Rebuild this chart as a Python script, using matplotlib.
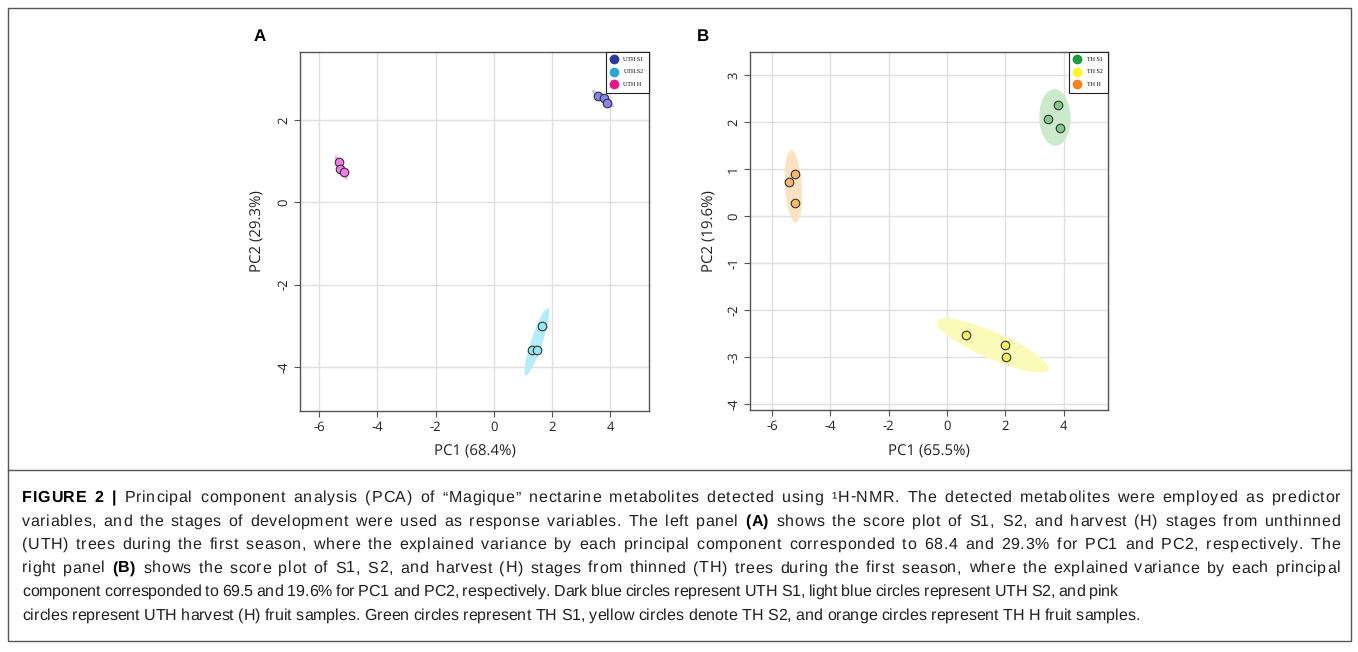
import numpy as np
import matplotlib
matplotlib.use("Agg")
import matplotlib.pyplot as plt
from matplotlib.patches import Ellipse, Rectangle
from matplotlib.lines import Line2D
from matplotlib import font_manager

# ---------------- data ----------------
a_labels = ["UTH S1", "UTH.S2", "UTH H"]
a_s1_pc1 = [3.59, 3.79, 3.90]
a_s1_pc2 = [2.59, 2.54, 2.42]
a_s2_pc1 = [1.31, 1.48, 1.66]
a_s2_pc2 = [-3.58, -3.58, -3.00]
a_h_pc1 = [-5.31, -5.28, -5.14]
a_h_pc2 = [0.97, 0.82, 0.73]

b_labels = ["TH S1", "TH S2", "TH H"]
b_s1_pc1 = [3.79, 3.45, 3.86]
b_s1_pc2 = [2.36, 2.06, 1.87]
b_s2_pc1 = [0.66, 2.00, 2.03]
b_s2_pc2 = [-2.53, -2.74, -3.00]
b_h_pc1 = [-5.20, -5.41, -5.20]
b_h_pc2 = [0.89, 0.72, 0.28]

a_xticks = [-6, -4, -2, 0, 2, 4]
a_yticks = [-4, -2, 0, 2]
b_xticks = [-6, -4, -2, 0, 2, 4]
b_yticks = [-4, -3, -2, -1, 0, 1, 2, 3]

a_xlabel = "PC1 (68.4%)"
a_ylabel = "PC2 (29.3%)"
b_xlabel = "PC1 (65.5%)"
b_ylabel = "PC2 (19.6%)"

caption = [
    [("FIGURE 2 |", "bold"), (" Principal component analysis (PCA) of \u201cMagique\u201d nectarine metabolites detected using \u00b9H-NMR. The detected metabolites were employed as predictor", "normal")],
    [("variables, and the stages of development were used as response variables. The left panel ", "normal"), ("(A)", "bold"), (" shows the score plot of S1, S2, and harvest (H) stages from unthinned", "normal")],
    [("(UTH) trees during the first season, where the explained variance by each principal component corresponded to 68.4 and 29.3% for PC1 and PC2, respectively. The", "normal")],
    [("right panel ", "normal"), ("(B)", "bold"), (" shows the score plot of S1, S2, and harvest (H) stages from thinned (TH) trees during the first season, where the explained variance by each principal", "normal")],
    [("component corresponded to 69.5 and 19.6% for PC1 and PC2, respectively. Dark blue circles represent UTH S1, light blue circles represent UTH S2, and pink", "normal")],
    [("circles represent UTH harvest (H) fruit samples. Green circles represent TH S1, yellow circles denote TH S2, and orange circles represent TH H fruit samples.", "normal")],
]
line_right = [1340, 1340, 1340, 1340, 1118, 1140]

# ---------------- style ----------------
plt.rcParams["text.hinting"] = "no_hinting"
plt.rcParams["text.hinting_factor"] = 1

W, H = 1358, 652
DPI = 100
fig = plt.figure(figsize=(W / DPI, H / DPI), dpi=DPI)
fig.patch.set_facecolor("white")

avail = {f.name for f in font_manager.fontManager.ttflist}
tick_font = "Open Sans" if "Open Sans" in avail else "DejaVu Sans"
cap_font = "Liberation Sans" if "Liberation Sans" in avail else "DejaVu Sans"
leg_font = "Liberation Serif" if "Liberation Serif" in avail else "DejaVu Serif"


def fx(px):
    return px / W


def fy(py):
    return 1 - py / H


def conf_ellipse(ax, xs, ys, color, k=2.4477):
    xs = np.asarray(xs); ys = np.asarray(ys)
    cov = np.cov(xs, ys)
    vals, vecs = np.linalg.eigh(cov)
    order = vals.argsort()[::-1]
    vals, vecs = vals[order], vecs[:, order]
    ang = np.degrees(np.arctan2(vecs[1, 0], vecs[0, 0]))
    w, h = 2 * k * np.sqrt(np.maximum(vals, 1e-6))
    e = Ellipse((xs.mean(), ys.mean()), w, h, angle=ang, facecolor=color,
                edgecolor="none", zorder=2)
    ax.add_patch(e)


def setup_axes(rect, xlim, ylim, xticks, yticks, xlabel, ylabel, xlab_y, ylab_x):
    ax = fig.add_axes(rect)
    ax.set_xlim(*xlim); ax.set_ylim(*ylim)
    ax.set_xticks(xticks); ax.set_yticks(yticks)
    ax.set_xticklabels([str(t) for t in xticks], fontfamily=tick_font, fontsize=9)
    ax.set_yticklabels([str(t) for t in yticks], fontfamily=tick_font, fontsize=9,
                       rotation=90, va="center")
    ax.grid(True, color="#e0e0e0", linewidth=1.0, zorder=0)
    ax.set_axisbelow(True)
    for s in ax.spines.values():
        s.set_color("#555555"); s.set_linewidth(1.0)
    ax.tick_params(direction="out", length=4, width=0.8, color="#555555",
                   labelcolor="#222222", pad=3)
    fig.text(rect[0] + rect[2] / 2, xlab_y, xlabel, ha="center", va="center",
             fontfamily=tick_font, fontsize=10.5, color="#222222")
    fig.text(ylab_x, rect[1] + rect[3] / 2, ylabel, ha="center", va="center",
             rotation=90, fontfamily=tick_font, fontsize=10.5, color="#222222")
    return ax


def add_legend(ax, labels, colors):
    handles = [Line2D([], [], linestyle="none", marker="o", markersize=6,
                      markerfacecolor=c, markeredgecolor=c) for c in colors]
    leg = ax.legend(handles, labels, loc="upper right", borderaxespad=0,
                    frameon=True, fancybox=False, framealpha=1,
                    prop={"family": leg_font, "size": 4.3}, handlelength=1.0,
                    handletextpad=1.1, labelspacing=1.15, borderpad=0.9)
    leg.get_frame().set_edgecolor("#222222")
    leg.get_frame().set_linewidth(0.8)
    leg.set_zorder(10)


# ---------------- panel A ----------------
axA = setup_axes([fx(300), fy(411), fx(349), 359 / H], (-6.66, 5.34), (-5.07, 3.65),
                 a_xticks, a_yticks, a_xlabel, a_ylabel, fy(452), fx(258))
a_pts = [(a_s1_pc1, a_s1_pc2, "#8682f0", "#c9c7f9"),
         (a_s2_pc1, a_s2_pc2, "#96e6f6", "#b6ecf8"),
         (a_h_pc1, a_h_pc2, "#f07de6", "#f6b4f0")]
for xs, ys, fc, ec in a_pts:
    conf_ellipse(axA, xs, ys, ec)
    axA.scatter(xs, ys, s=38, facecolor=fc, edgecolor="#333333", linewidth=0.8, zorder=3)
add_legend(axA, a_labels, ["#2b3a98", "#2aa8d2", "#e6168c"])
fig.text(fx(260), fy(37), "A", ha="center", va="center", fontsize=12.5,
         fontweight="bold", fontfamily=cap_font)

# ---------------- panel B ----------------
axB = setup_axes([fx(750), fy(410), fx(358), 358 / H], (-6.76, 5.52), (-4.13, 3.49),
                 b_xticks, b_yticks, b_xlabel, b_ylabel, fy(452), fx(710))
b_pts = [(b_s1_pc1, b_s1_pc2, "#82c98a", "#cbe9cb"),
         (b_s2_pc1, b_s2_pc2, "#f4ef62", "#fbfab9"),
         (b_h_pc1, b_h_pc2, "#f8ba6a", "#fde1c3")]
for xs, ys, fc, ec in b_pts:
    conf_ellipse(axB, xs, ys, ec)
    axB.scatter(xs, ys, s=38, facecolor=fc, edgecolor="#333333", linewidth=0.8, zorder=3)
add_legend(axB, b_labels, ["#1f9a3c", "#fcf728", "#f5821f"])
fig.text(fx(703), fy(37), "B", ha="center", va="center", fontsize=12.5,
         fontweight="bold", fontfamily=cap_font)

# ---------------- frame ----------------
fig.add_artist(Rectangle((fx(8), fy(641)), fx(1343), (641 - 8) / H, transform=fig.transFigure,
                         facecolor="none", edgecolor="#555555", linewidth=1.0))
fig.add_artist(Line2D([fx(8), fx(1351)], [fy(470), fy(470)], transform=fig.transFigure,
                      color="#555555", linewidth=1.0))

# ---------------- caption (tracked / justified) ----------------
renderer = fig.canvas.get_renderer()
cap_color = "#231f20"
_cache = {}


def text_w(s, size, weight):
    t = fig.text(0, 0, s, fontsize=size, fontfamily=cap_font, fontweight=weight)
    w = t.get_window_extent(renderer).width
    t.remove()
    return w


def adv(c, size, weight):
    key = (c, weight)
    if key not in _cache:
        _cache[key] = text_w("H" + c + "H", size, weight) - text_w("HH", size, weight)
    return _cache[key]


last = "".join(t for t, _ in caption[5])
probe_w = sum(adv(c, 10, "normal") for c in last)
cap_size = 10 * (line_right[5] - 22) / probe_w * 0.99
_cache.clear()

x_left = 22
baselines = [502, 525.5, 549, 572.5, 596, 619.5]
for li, segs in enumerate(caption):
    chars = [(c, w) for t, w in segs for c in t]
    advs = [adv(c, cap_size, w) for c, w in chars]
    natural = sum(advs)
    weights = [4.0 if c == " " else 1.0 for c, _ in chars[:-1]]
    extra = (line_right[li] - x_left) - natural
    unit = extra / sum(weights)
    x = x_left
    for i, ((c, w), a) in enumerate(zip(chars, advs)):
        if c != " ":
            fig.text(fx(x), fy(baselines[li]), c, fontsize=cap_size, fontfamily=cap_font,
                     fontweight=w, color="#000000" if w == "bold" else cap_color,
                     ha="left", va="baseline")
        x += a
        if i < len(weights):
            x += weights[i] * unit

fig.savefig("out.png", dpi=DPI, facecolor="white")
